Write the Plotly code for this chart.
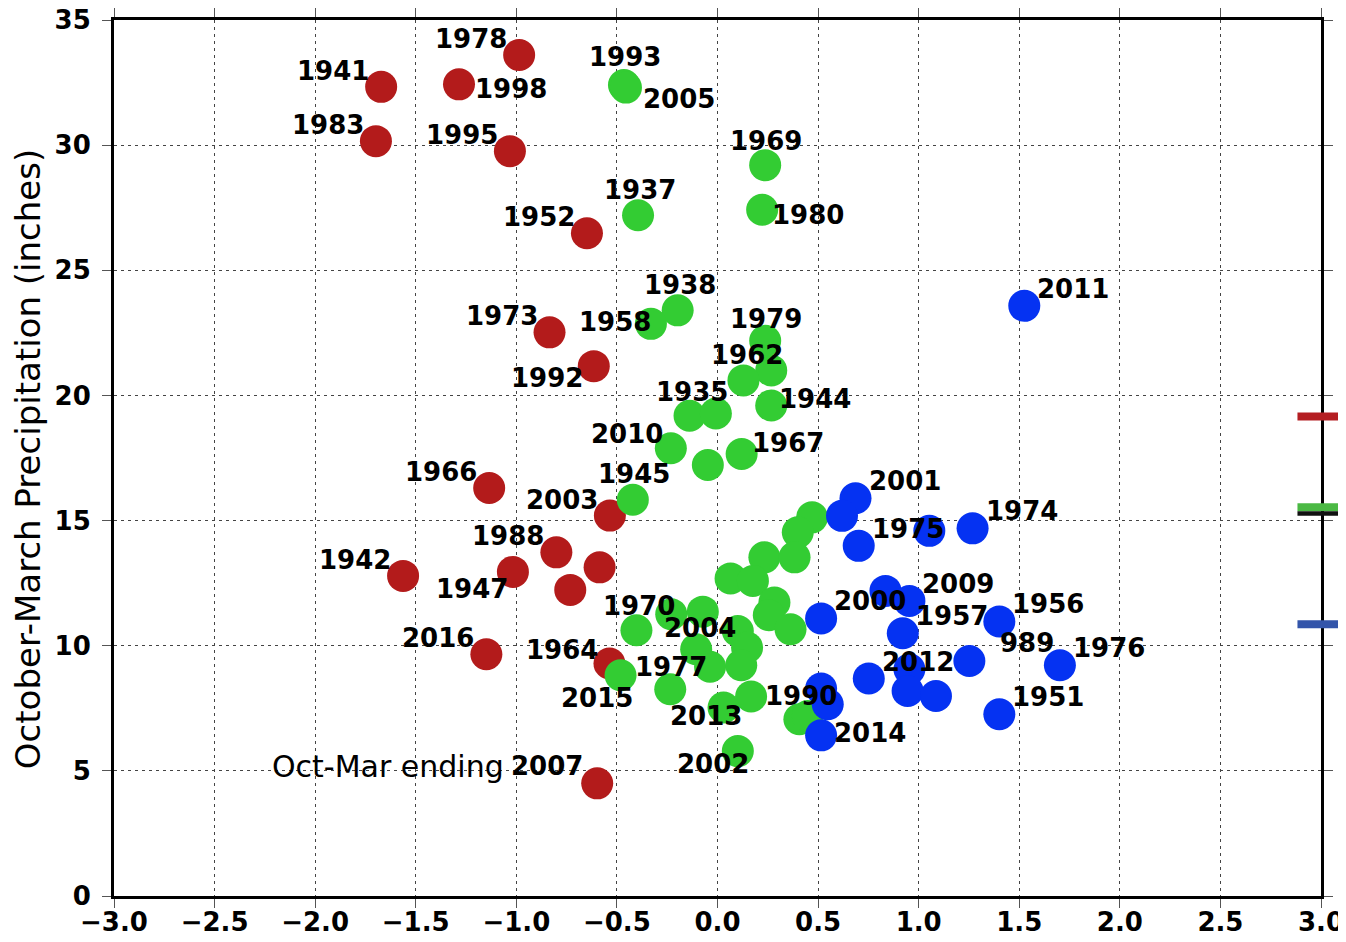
import plotly.graph_objects as go

# ---------------- data ----------------
red_x = [-1.672, -0.986, -1.285, -1.698, -1.032, -0.649, -0.835, -0.615, -1.135, -0.535,
         -0.801, -0.586, -1.017, -1.563, -0.732, -1.149, -0.537, -0.598]
red_y = [32.33, 33.60, 32.43, 30.16, 29.76, 26.48, 22.52, 21.17, 16.30, 15.20,
         13.73, 13.13, 12.95, 12.79, 12.23, 9.66, 9.29, 4.50]
red_labels = ["1941", "1978", "1998", "1983", "1995", "1952", "1973", "1992", "1966", "2003",
              "1988", "", "1947", "1942", "", "2016", "1964", "2007"]

green_x = [-0.465, -0.455, 0.237, 0.222, -0.395, -0.198, -0.331, 0.237, 0.267, 0.129,
           0.267, -0.139, -0.008, -0.232, -0.048, 0.120, -0.421, 0.470, 0.399, 0.233,
           0.383, 0.065, 0.176, 0.283, 0.255, 0.363, -0.403, -0.230, -0.073, 0.101,
           0.147, -0.106, -0.037, 0.118, -0.482, -0.235, 0.167, 0.030, 0.407, 0.449,
           0.101]
green_y = [32.40, 32.30, 29.20, 27.42, 27.20, 23.40, 22.86, 22.18, 21.00, 20.60,
           19.60, 19.19, 19.28, 17.89, 17.22, 17.66, 15.83, 15.13, 14.53, 13.53,
           13.53, 12.69, 12.59, 11.73, 11.22, 10.66, 10.62, 11.26, 11.36, 10.59,
           9.93, 9.86, 9.16, 9.22, 8.82, 8.26, 7.97, 7.53, 7.06, 7.19,
           5.79]
green_labels = ["1993", "2005", "1969", "1980", "1937", "1938", "1958", "1979", "", "1962",
                "1944", "1935", "", "2010", "", "1967", "1945", "", "", "",
                "", "", "", "", "", "", "1970", "", "", "2004",
                "", "", "1977", "", "2015", "", "", "2013", "1990", "",
                "2002"]

blue_x = [0.686, 0.619, 0.702, 1.053, 1.268, 0.835, 0.954, 0.515, 0.921, 1.401,
          1.252, 1.702, 0.752, 0.954, 0.945, 1.086, 1.401, 0.515, 0.548, 0.515,
          1.525]
blue_y = [15.89, 15.19, 13.99, 14.59, 14.69, 12.19, 11.79, 11.09, 10.50, 10.97,
          9.39, 9.22, 8.69, 9.06, 8.19, 7.99, 7.26, 8.29, 7.66, 6.42,
          23.58]
blue_labels = ["2001", "", "1975", "", "1974", "", "2009", "2000", "1957", "1956",
               "989", "1976", "2012", "", "", "", "1951", "", "", "2014",
               "2011"]

# group reference levels drawn at the right edge
level_names = ["red", "green", "black", "blue"]
level_values = [19.16, 15.53, 15.28, 10.86]

x_tick_vals = [-3.0, -2.5, -2.0, -1.5, -1.0, -0.5, 0.0, 0.5, 1.0, 1.5, 2.0, 2.5, 3.0]
x_tick_text = ["−3.0", "−2.5", "−2.0", "−1.5", "−1.0", "−0.5", "0.0", "0.5", "1.0", "1.5", "2.0", "2.5", "3.0"]
y_tick_vals = [0, 5, 10, 15, 20, 25, 30, 35]

y_title = "October-March Precipitation (inches)"
note_text = "Oct-Mar ending"

# ---------------- styles ----------------
RED = "#B31B1B"
GREEN = "#33CC33"
BLUE = "#0532F2"
level_colors = {"red": "#B41E22", "green": "#4BB944", "black": "#111111", "blue": "#3355AA"}
level_widths = {"red": 8, "green": 8, "black": 4.5, "blue": 8}

UL = (-48, -14)
UR = (49, -15)
red_off = {"1998": (52, 7), "1992": (-47, 14), "1947": (-41, 19), "1964": (-47, -11), "2007": (-50, -15)}
green_off = {"1993": (1, -26), "2005": (53, 13), "1969": (1, -22), "1980": (46, 7), "1937": (2, -23),
             "1938": (2, -23), "1958": (-36, 0), "1979": (1, -20), "1962": (4, -23), "1935": (2, -22),
             "1944": (44, -4), "2010": (-44, -12), "1967": (46, -9), "1945": (1, -24), "1970": (3, -22),
             "2004": (-38, -1), "1977": (-39, 2), "2015": (-24, 25), "2013": (-18, 10), "1990": (2, -21),
             "2002": (-25, 15)}
blue_off = {"989": (58, -16), "2014": (49, 0)}

FONT = "DejaVu Sans"
MSIZE = 32

fig = go.Figure()
for xs, ys, col in [(red_x, red_y, RED), (green_x, green_y, GREEN), (blue_x, blue_y, BLUE)]:
    fig.add_trace(go.Scatter(x=xs, y=ys, mode="markers",
                             marker=dict(size=MSIZE, color=col, line=dict(width=0)),
                             showlegend=False, hoverinfo="skip"))

annotations = []
for xs, ys, labs, offs, default in [(red_x, red_y, red_labels, red_off, UL),
                                    (green_x, green_y, green_labels, green_off, (0, -24)),
                                    (blue_x, blue_y, blue_labels, blue_off, UR)]:
    for x, y, lab in zip(xs, ys, labs):
        if not lab:
            continue
        dx, dy = offs.get(lab, default)
        annotations.append(dict(x=x, y=y, xref="x", yref="y", text=lab, showarrow=False,
                                xanchor="center", yanchor="middle", xshift=dx, yshift=-dy + 2,
                                font=dict(family=FONT, size=26, color="black", weight="bold")))

# note text before the 2007 label
annotations.append(dict(x=red_x[-1], y=red_y[-1], xref="x", yref="y", text=note_text, showarrow=False,
                        xanchor="right", yanchor="middle", xshift=-91, yshift=17,
                        font=dict(family=FONT, size=30, color="black")))

# y title
annotations.append(dict(x=-0.071, y=0.499, xref="paper", yref="paper", text=y_title, showarrow=False,
                        textangle=-90, xanchor="center", yanchor="middle",
                        font=dict(family=FONT, size=34, color="black")))

shapes = []
for name, val in zip(level_names, level_values):
    shapes.append(dict(type="line", xref="paper", yref="y", x0=0.9805, x1=1.03, y0=val, y1=val,
                       line=dict(color=level_colors[name], width=level_widths[name]), layer="above"))

# the page body adds an 8px offset; margins compensate so the plot area lands at 114..1321 x 20..896
fig.update_layout(
    width=1346, height=942,
    margin=dict(l=106, r=33, t=12, b=54),
    paper_bgcolor="white", plot_bgcolor="white",
    annotations=annotations, shapes=shapes,
    showlegend=False,
)
fig.update_xaxes(range=[-3, 3], tickvals=x_tick_vals, ticktext=x_tick_text,
                 showgrid=True, gridcolor="#444", griddash="3px,4px", gridwidth=1,
                 showline=True, linecolor="black", linewidth=3, mirror="allticks",
                 ticks="outside", ticklen=9, tickcolor="#555", tickwidth=1,
                 ticklabelstandoff=-8, ticklabeloverflow="allow",
                 tickfont=dict(family=FONT, size=26, color="black", weight="bold"),
                 zeroline=False, automargin=False)
fig.update_yaxes(range=[0, 35], tickvals=y_tick_vals,
                 showgrid=True, gridcolor="#444", griddash="3px,4px", gridwidth=1,
                 showline=True, linecolor="black", linewidth=3, mirror="allticks",
                 ticks="outside", ticklen=9, tickcolor="#555", tickwidth=1,
                 ticklabelstandoff=6, ticklabeloverflow="allow",
                 tickfont=dict(family=FONT, size=26, color="black", weight="bold"),
                 zeroline=False, automargin=False)

fig.write_html("out.html")
